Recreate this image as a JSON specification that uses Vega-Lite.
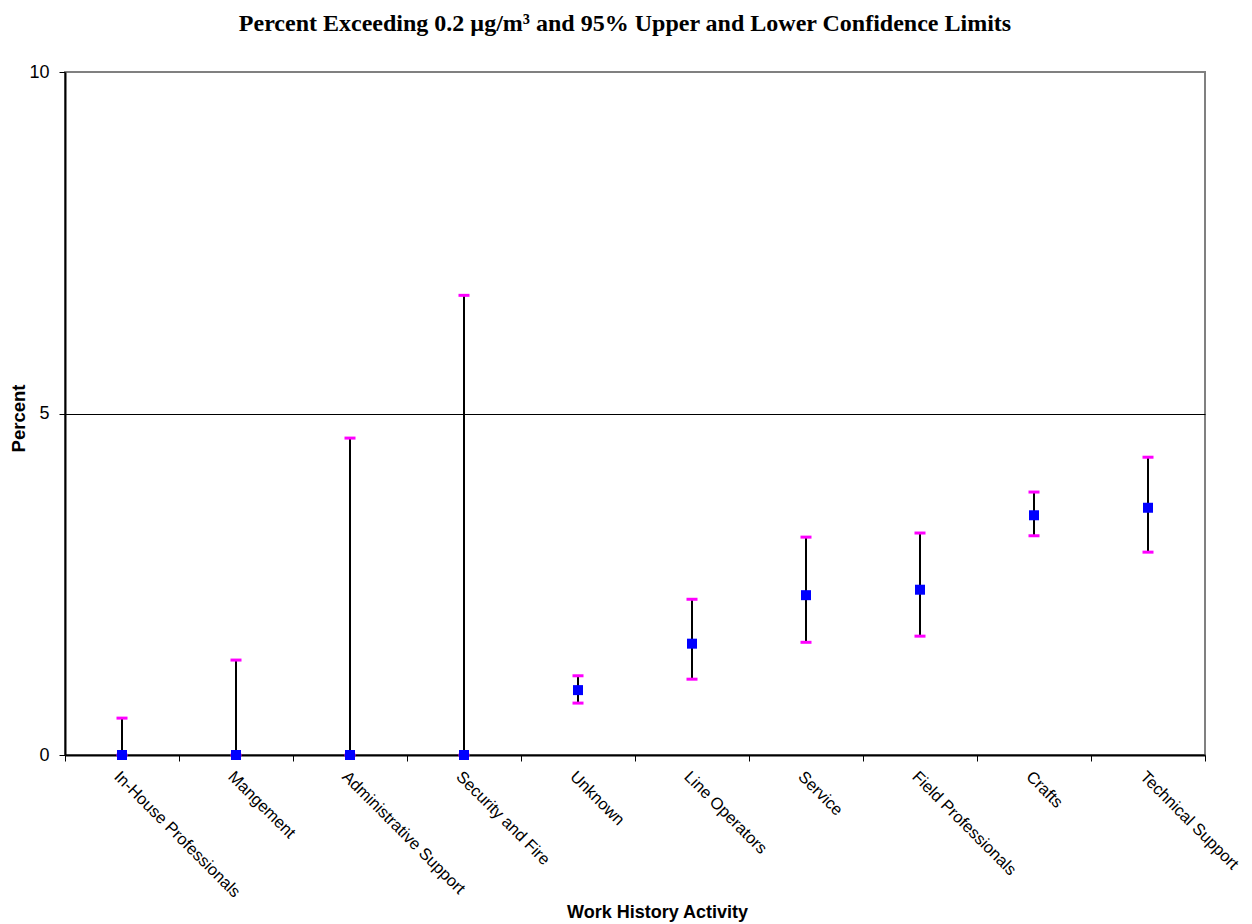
{
  "$schema": "https://vega.github.io/schema/vega-lite/v6.json",
  "width": 1140,
  "height": 683,
  "autosize": {"type": "none"},
  "padding": {"left": 65, "top": 72, "right": 47, "bottom": 169},
  "background": "white",
  "title": {
    "text": "Percent Exceeding 0.2 µg/m³ and 95% Upper and Lower Confidence Limits",
    "font": "Liberation Serif",
    "fontSize": 24,
    "fontWeight": "bold",
    "color": "black",
    "anchor": "middle",
    "frame": "group",
    "dx": -10,
    "offset": 27
  },
  "config": {
    "view": {"stroke": "#808080", "strokeWidth": 2},
    "axis": {
      "labelFont": "Liberation Sans",
      "titleFont": "Liberation Sans",
      "labelColor": "black",
      "titleColor": "black"
    }
  },
  "data": {
    "values": [
      {"activity": "In-House Professionals", "pct": 0, "lower": 0, "upper": 0.54},
      {"activity": "Mangement", "pct": 0, "lower": 0, "upper": 1.39},
      {"activity": "Administrative Support", "pct": 0, "lower": 0, "upper": 4.64},
      {"activity": "Security and Fire", "pct": 0, "lower": 0, "upper": 6.73},
      {"activity": "Unknown", "pct": 0.95, "lower": 0.76, "upper": 1.16},
      {"activity": "Line Operators", "pct": 1.63, "lower": 1.11, "upper": 2.28},
      {"activity": "Service", "pct": 2.34, "lower": 1.65, "upper": 3.19},
      {"activity": "Field Professionals", "pct": 2.42, "lower": 1.74, "upper": 3.25},
      {"activity": "Crafts", "pct": 3.51, "lower": 3.21, "upper": 3.85},
      {"activity": "Technical Support", "pct": 3.62, "lower": 2.97, "upper": 4.36}
    ]
  },
  "encoding": {
    "x": {
      "field": "activity",
      "type": "nominal",
      "sort": null,
      "scale": {"paddingInner": 0, "paddingOuter": 0},
      "axis": {
        "title": "Work History Activity",
        "titleFontSize": 18,
        "titleFontWeight": "bold",
        "titleX": 592,
        "titleY": 157,
        "titleBaseline": "middle",
        "labelAngle": 45,
        "labelAlign": "left",
        "labelBaseline": "top",
        "labelFontSize": 16.5,
        "labelPadding": 7,
        "labelOverlap": false,
        "labelLimit": 0,
        "tickBand": "extent",
        "tickColor": "black",
        "tickSize": 6,
        "domainColor": "black",
        "domainWidth": 2,
        "grid": false
      }
    }
  },
  "layer": [
    {
      "mark": {"type": "rule", "color": "black", "strokeWidth": 2},
      "encoding": {
        "y": {
          "field": "lower",
          "type": "quantitative",
          "scale": {"domain": [0, 10], "nice": false},
          "axis": {
            "title": "Percent",
            "titleFontSize": 18.5,
            "titleFontWeight": "bold",
            "titleX": -47,
            "titleY": 346,
            "titleBaseline": "middle",
            "values": [0, 5, 10],
            "format": "d",
            "labelFontSize": 18,
            "labelPadding": 10,
            "tickColor": "black",
            "tickSize": 6,
            "domainColor": "black",
            "domainWidth": 2,
            "grid": true,
            "gridColor": {"condition": {"test": "datum.value == 5", "value": "black"}, "value": "transparent"},
            "gridWidth": 1.2
          }
        },
        "y2": {"field": "upper"}
      }
    },
    {
      "mark": {"type": "tick", "color": "#FF00FF", "size": 11, "thickness": 3, "opacity": 1},
      "encoding": {"y": {"field": "upper", "type": "quantitative"}}
    },
    {
      "mark": {"type": "tick", "color": "#FF00FF", "size": 11, "thickness": 3, "opacity": 1},
      "encoding": {"y": {"field": "lower", "type": "quantitative"}}
    },
    {
      "mark": {"type": "point", "shape": "square", "filled": true, "color": "#0000FF", "size": 100, "opacity": 1},
      "encoding": {"y": {"field": "pct", "type": "quantitative"}}
    }
  ]
}
